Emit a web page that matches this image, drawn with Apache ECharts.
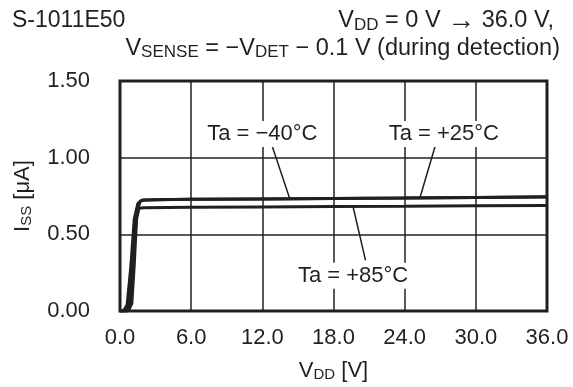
<!DOCTYPE html>
<html><head><meta charset="utf-8">
<script src="https://cdn.jsdelivr.net/npm/echarts@6/dist/echarts.min.js"></script>
<style>html,body{margin:0;padding:0;background:#fff}#c{width:573px;height:387px}</style>
</head><body><div id="c"></div>
<script>
var xTicks = [0, 6, 12, 18, 24, 30, 36];
var yTicks = [0, 0.5, 1.0, 1.5];
var curveM40 = [[0,0],[0.3,0],[0.6,0.04],[0.9,0.28],[1.2,0.6],[1.5,0.7],[1.8,0.722],[3,0.726],[6,0.728],[12,0.731],[18,0.734],[24,0.737],[30,0.74],[36,0.743]];
var curveP25 = [[0,0],[0.5,0],[0.8,0.04],[1.1,0.32],[1.4,0.64],[1.7,0.715],[2,0.724],[3,0.726],[6,0.728],[12,0.731],[18,0.734],[24,0.737],[30,0.741],[36,0.745]];
var curveP85 = [[0,0],[0.7,0],[1.0,0.05],[1.2,0.3],[1.4,0.6],[1.6,0.67],[2,0.674],[6,0.676],[12,0.679],[18,0.681],[24,0.683],[30,0.686],[36,0.688]];
var labelNames = ['Ta = \u221240\u00B0C', 'Ta = +25\u00B0C', 'Ta = +85\u00B0C'];
var labelPos = [[12.0, 1.155], [27.3, 1.155], [19.65, 0.23]];
var leaderM40 = [[12.8, 1.083], [14.3, 0.735]];
var leaderP25 = [[26.6, 1.083], [25.3, 0.742]];
var leaderP85 = [[19.65, 0.68], [20.7, 0.33]];

var C = '#231f20';
var FF = '"Liberation Sans", Arial, sans-serif';
var chart = echarts.init(document.getElementById('c'));
function lineS(d, w){ return {type:'line', data:d, showSymbol:false, symbol:'none', smooth:false, lineStyle:{color:C, width:w}, silent:true, z:3}; }
var rich = {
  n:{fontSize:22, fontFamily:FF, color:C, fontWeight:'normal'},
  s:{fontSize:15, fontFamily:FF, color:C, fontWeight:'normal', padding:[8,0,0,0]}
};
var richT = {
  n:{fontSize:23.5, fontFamily:FF, color:C, fontWeight:'normal'},
  a:{fontSize:28, fontFamily:FF, color:C, fontWeight:'normal'},
  s:{fontSize:17, fontFamily:FF, color:C, fontWeight:'normal', padding:[8,0,0,0]}
};
chart.setOption({
  animation:false,
  backgroundColor:'#fff',
  title:[
    {text:'S-1011E50', left:7, top:4, textStyle:{fontSize:23, fontFamily:FF, color:C, fontWeight:'normal'}},
    {text:'{n|V}{s|DD}{n| = 0 V }{a|\u2192}{n| 36.0 V,}', right:14, top:2, textStyle:{fontWeight:'normal', rich:richT}},
    {text:'{n|V}{s|SENSE}{n| = \u2212V}{s|DET}{n| \u2212 0.1 V (during detection)}', right:8, top:31, textStyle:{fontWeight:'normal', rich:richT}}
  ],
  grid:{left:120, right:26, top:81, bottom:72, show:true, borderColor:C, borderWidth:3, backgroundColor:'transparent'},
  xAxis:{type:'value', min:0, max:36, interval:6,
    axisLine:{show:false}, axisTick:{show:false},
    splitLine:{show:true, lineStyle:{color:C, width:1.5}},
    axisLabel:{margin:16, fontSize:22, fontFamily:FF, color:C, formatter:function(v){return v.toFixed(1);}},
    name:'{n|V}{s|DD}{n| [V]}', nameLocation:'middle', nameGap:48,
    nameTextStyle:{rich:rich}
  },
  yAxis:{type:'value', min:0, max:1.5, interval:0.5,
    axisLine:{show:false}, axisTick:{show:false},
    splitLine:{show:true, lineStyle:{color:C, width:1.5}},
    axisLabel:{margin:30, fontSize:22, fontFamily:FF, color:C, formatter:function(v){return v.toFixed(2);}},
    name:'{n|I}{s|SS}{n| [\u03BCA]}', nameLocation:'middle', nameGap:86,
    nameTextStyle:{rich:rich}
  },
  series:[
    lineS(curveM40, 3), lineS(curveP25, 3), lineS(curveP85, 3),
    lineS(leaderM40, 1.5), lineS(leaderP25, 1.5), lineS(leaderP85, 1.5),
    {type:'scatter', symbolSize:0, z:5, silent:true,
      itemStyle:{opacity:1, color:C},
      data: labelPos.map(function(p,i){return {value:p, name:labelNames[i]};}),
      label:{show:true, position:'inside', formatter:'{b}', fontSize:22, fontFamily:FF, color:C, backgroundColor:'#fff', padding:[2,4]}
    }
  ]
});
</script></body></html>
